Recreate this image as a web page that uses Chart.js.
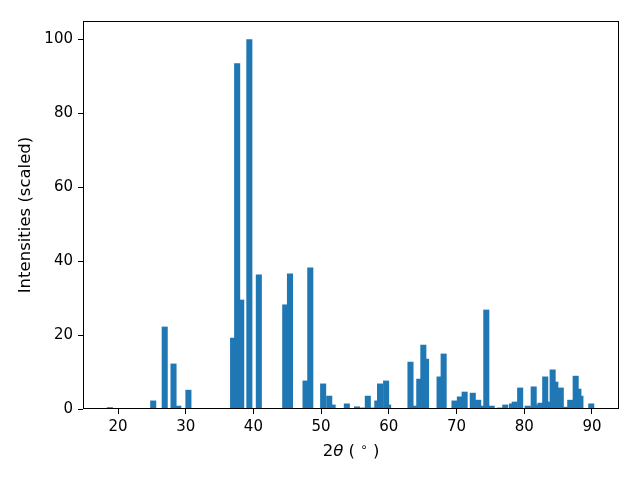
<!DOCTYPE html>
<html>
<head>
<meta charset="utf-8">
<script src="https://cdn.jsdelivr.net/npm/chart.js@4"></script>
<style>
html, body { margin: 0; padding: 0; background: #fff; }
</style>
</head>
<body>
<canvas id="canvas" width="640" height="480"></canvas>
<script>
// peak positions (2 theta, degrees) and scaled intensities
var twoTheta = [18.8, 25.2, 26.9, 28.2, 28.9, 30.4,
    37.0, 37.6, 38.2, 39.4, 40.8, 44.7, 45.4, 47.7, 48.4,
    50.3, 51.2, 51.7, 53.8, 55.3, 56.2, 56.9, 57.5, 58.3, 58.7, 59.6, 59.9,
    63.2, 63.9, 64.5, 65.1, 65.5, 67.5, 68.1, 69.7,
    70.5, 71.2, 72.4, 73.2, 73.8, 74.4, 75.2, 76.4, 77.2, 78.2, 78.6, 79.4,
    80.5, 80.9, 81.4, 82.1, 82.4, 83.1, 83.6, 84.2, 84.6, 85.4, 86.2, 86.8, 87.6, 88.0, 88.3, 89.9];
var intensity = [0.4, 2.2, 22.2, 12.2, 0.8, 5.1,
    19.2, 93.5, 29.5, 100, 36.3, 28.2, 36.6, 7.6, 38.2,
    6.8, 3.5, 1.1, 1.4, 0.6, 0.3, 3.5, 0.3, 2.2, 6.8, 7.6, 1.1,
    12.7, 0.8, 8.1, 17.3, 13.5, 8.7, 14.9, 2.2,
    3.3, 4.6, 4.3, 2.4, 0.8, 26.8, 0.8, 0.3, 1.1, 1.4, 1.9, 5.7,
    0.8, 0.5, 6.0, 1.1, 1.6, 8.7, 1.9, 10.6, 7.3, 5.7, 0.5, 2.4, 8.9, 5.4, 3.5, 1.4];
var xTicks = [20, 30, 40, 50, 60, 70, 80, 90];
var yTicks = [0, 20, 40, 60, 80, 100];

var peaks = twoTheta.map(function(t, i) {
    return {x: t, y: intensity[i]};
});

var tickFont = {family: 'DejaVu Sans', size: 15};

// frame + axis titles (matplotlib style)
var frame = {
    id: 'frame',
    afterDraw: function(chart) {
        var c = chart.ctx, a = chart.chartArea;
        c.save();
        c.strokeStyle = '#000';
        c.lineWidth = 1;
        c.strokeRect(a.left + 0.5, a.top + 0.5, a.right - a.left - 1, a.bottom - a.top - 1);

        c.fillStyle = '#000';
        c.textBaseline = 'middle';
        // x title: 2θ ( ° )
        var parts = [
            {t: '2', f: '16.5px "DejaVu Sans"', dy: 0},
            {t: 'θ', f: 'italic 16.5px "DejaVu Sans"', dy: 0},
            {t: ' ( ', f: '16.5px "DejaVu Sans"', dy: 0},
            {t: '∘', f: '12px "DejaVu Sans"', dy: -4},
            {t: ' )', f: '16.5px "DejaVu Sans"', dy: 0}
        ];
        var w = 0;
        parts.forEach(function(p) { c.font = p.f; w += c.measureText(p.t).width; });
        var x = (a.left + a.right) / 2 - w / 2;
        c.textAlign = 'left';
        parts.forEach(function(p) {
            c.font = p.f;
            c.fillText(p.t, x, 452 + p.dy);
            x += c.measureText(p.t).width;
        });
        // y title
        c.translate(26, (a.top + a.bottom) / 2);
        c.rotate(-Math.PI / 2);
        c.textAlign = 'center';
        c.font = '16.5px "DejaVu Sans"';
        c.fillText('Intensities (scaled)', 0, 0);
        c.restore();
    }
};

var ctx = document.getElementById('canvas').getContext('2d');
var myChart = new Chart(ctx, {
    type: 'bar',
    data: {
        datasets: [{
            data: peaks,
            backgroundColor: '#1f77b4',
            borderWidth: 0,
            barThickness: 5.4
        }]
    },
    options: {
        responsive: false,
        animation: false,
        devicePixelRatio: 1,
        layout: {padding: {top: 21, right: 21, left: 0, bottom: 0}},
        plugins: {legend: {display: false}, tooltip: {enabled: false}},
        scales: {
            x: {
                type: 'linear',
                min: 14.83,
                max: 94.0,
                offset: false,
                afterBuildTicks: function(s) { s.ticks = xTicks.map(function(v) { return {value: v}; }); },
                afterFit: function(s) { s.height = 71; },
                grid: {offset: false, drawOnChartArea: false, drawTicks: true, tickLength: 5, color: '#000'},
                border: {display: false},
                ticks: {font: tickFont, color: '#000', padding: 4, maxRotation: 0}
            },
            y: {
                min: 0,
                max: 105,
                afterBuildTicks: function(s) { s.ticks = yTicks.map(function(v) { return {value: v}; }); },
                afterFit: function(s) { s.width = 83; },
                grid: {drawOnChartArea: false, drawTicks: true, tickLength: 5, color: '#000'},
                border: {display: false},
                ticks: {font: tickFont, color: '#000', padding: 5}
            }
        }
    },
    plugins: [frame]
});
</script>
</body>
</html>
